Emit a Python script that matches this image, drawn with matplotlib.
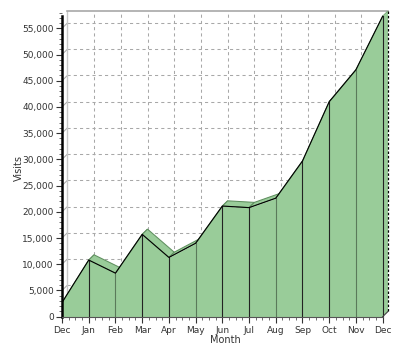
import numpy as np
import matplotlib.pyplot as plt
from matplotlib.ticker import FixedLocator, MultipleLocator, FuncFormatter
from matplotlib.patches import Polygon

# данные
months = ['Dec', 'Jan', 'Feb', 'Mar', 'Apr', 'May', 'Jun',
          'Jul', 'Aug', 'Sep', 'Oct', 'Nov', 'Dec']
visits = [2700, 10800, 8300, 15700, 11300, 14000, 21100,
          20800, 22600, 29700, 41000, 47100, 57300]

GREEN = '#99cc99'
EDGE = '#5f8f5f'
GRID = '#a8a8a8'

x = np.arange(len(months))
y = np.array(visits, dtype=float)
ymax = y.max()
dx, dy = 0.2, 1000  # смещение "глубины" псевдо-3D

fig = plt.figure(figsize=(4.0, 3.56), dpi=100)
ax = fig.add_axes([0.155, 0.1104, 0.815, 0.8587])
ax.set_xlim(0, x[-1] + dx)
ax.set_ylim(0, ymax + dy)

# задняя стенка и сетка
for v in range(0, 55001, 5000):
    ax.plot([dx, x[-1] + dx], [v + dy, v + dy], color=GRID, lw=0.75,
            ls=(0, (3, 3)), zorder=0)
    ax.plot([0, dx], [v, v + dy], color=GRID, lw=0.75, zorder=0)
for i in x[1:-1]:
    ax.plot([i + dx, i + dx], [dy, ymax + dy], color=GRID, lw=0.75,
            ls=(0, (3, 3)), zorder=0)
ax.plot([dx, dx], [dy, ymax + dy], color='#c8c8c8', lw=1, zorder=0)
ax.plot([dx, x[-1] + dx], [ymax + dy, ymax + dy], color='#a8a8a8', lw=1.2,
        zorder=0, clip_on=False)

# левая грань
ax.add_patch(Polygon([(0, 0), (dx, dy), (dx, y[0] + dy), (0, y[0])],
                     closed=True, fc=GREEN, ec='none', zorder=1))

# верхние грани
for i in range(len(x) - 1):
    quad = [(x[i], y[i]), (x[i + 1], y[i + 1]),
            (x[i + 1] + dx, y[i + 1] + dy), (x[i] + dx, y[i] + dy)]
    ax.add_patch(Polygon(quad, closed=True, fc=GREEN, ec=EDGE, lw=0.75,
                         zorder=2))

# передняя грань
ax.fill_between(x, 0, y, color=GREEN, lw=0, zorder=3)
line_cols = ['#222222', '#222222', '#5a7a5a']
for i in x[1:]:
    ax.plot([i, i], [0, y[i]], color=line_cols[i % 3], lw=0.8, zorder=4)
ax.plot(x, y, color='black', lw=0.8, zorder=5)

# правая грань
ax.add_patch(Polygon([(x[-1], 0), (x[-1] + dx, dy),
                      (x[-1] + dx, ymax + dy), (x[-1], ymax)],
                     closed=True, fc=GREEN, ec='none', zorder=3,
                     clip_on=False))
ax.plot([x[-1] + dx, x[-1] + dx], [dy, ymax + dy], color='black', lw=0.9,
        ls=(0, (2, 1.5)), zorder=5, clip_on=False)
ax.plot([x[-1], x[-1] + dx], [0, dy], color='#444444', lw=0.8, zorder=5,
        clip_on=False)

# оси
for s in ['top', 'right']:
    ax.spines[s].set_visible(False)
ax.spines['left'].set_bounds(0, ymax)
ax.spines['left'].set_linewidth(1.8)
ax.spines['left'].set_zorder(6)
ax.spines['bottom'].set_bounds(0, x[-1])
ax.spines['bottom'].set_color('#555555')
ax.spines['bottom'].set_linewidth(0.8)
ax.spines['bottom'].set_zorder(6)

ax.yaxis.set_major_locator(FixedLocator(range(0, 55001, 5000)))
ax.yaxis.set_minor_locator(MultipleLocator(1000))
ax.yaxis.set_major_formatter(FuncFormatter(lambda v, p: f'{int(v):,}'))
ax.set_xticks(x)
ax.set_xticklabels(months)
ax.xaxis.set_minor_locator(MultipleLocator(0.25))

ax.tick_params(axis='both', which='major', length=4, width=0.8,
               labelsize=6.5, colors='#333333', pad=2)
ax.tick_params(axis='both', which='minor', length=2, width=0.6,
               colors='#555555')
ax.tick_params(axis='x', which='major', pad=3)

fig.text(225 / 400, 1 - 340 / 356, 'Month', fontsize=7, color='#333333',
         ha='center', va='center')
fig.text(19 / 400, 1 - 168 / 356, 'Visits', fontsize=7, color='#333333',
         ha='center', va='center', rotation=90)

fig.savefig('out.png', dpi=100)
